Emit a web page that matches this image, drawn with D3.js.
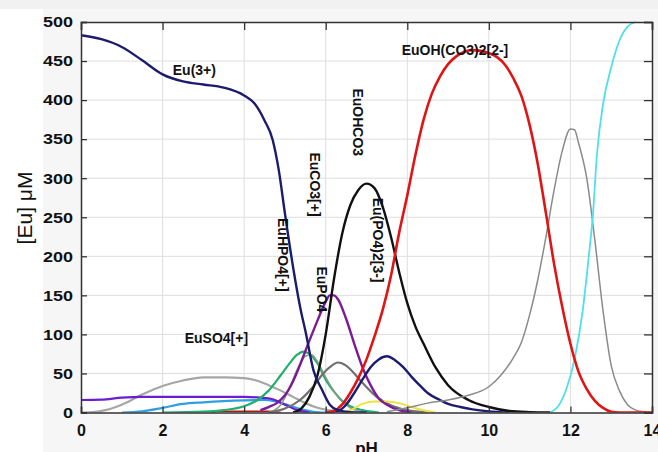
<!DOCTYPE html>
<html><head><meta charset="utf-8">
<script src="https://cdn.jsdelivr.net/npm/d3@7"></script>
<style>body{margin:0;background:#fff}svg{display:block}text{font-family:Arial,"Liberation Sans",sans-serif}</style>
</head><body><svg id="c" width="658" height="452"></svg>
<script>
// Tick values
const xTicks = [0,2,4,6,8,10,12,14];
const yTicks = [0,50,100,150,200,250,300,350,400,450,500];

// Species curves: [pH, [Eu] uM]
const eu3 = [[0,483],[0.5,478],[1,468],[1.5,451],[2,433],[2.5,424],[3,420],[3.5,416],[4,406],[4.25,396],[4.5,374],[4.7,349],[4.85,310],[5,255],[5.2,186],[5.4,128],[5.5,105],[5.7,54],[5.9,30],[6.1,10],[6.3,3],[6.6,0.5],[7,0]];
const euPO4_2 = [[6.0,0],[6.3,2],[6.5,10],[6.7,25],[6.9,42],[7.1,58],[7.3,68],[7.5,72],[7.7,67],[7.9,58],[8.1,46],[8.3,35],[8.5,25],[8.8,16],[9.0,11],[9.3,7],[9.6,4],[10,1.5],[10.5,0]];
const euOHCO3 = [[5.2,0],[5.4,5],[5.6,20],[5.8,48],[6.0,100],[6.2,170],[6.4,228],[6.6,265],[6.8,285],[7.0,293],[7.2,287],[7.4,263],[7.6,225],[7.8,180],[8.0,140],[8.2,110],[8.4,88],[8.7,57],[9.0,35],[9.5,16],[10,7],[10.5,2],[11,0.5],[11.5,0]];
const euOHCO32 = [[6.0,0],[6.2,2],[6.4,10],[6.6,25],[6.8,44],[7.0,68],[7.2,98],[7.4,132],[7.6,175],[7.8,230],[8.0,278],[8.2,330],[8.4,375],[8.6,408],[8.8,430],[9.0,446],[9.2,456],[9.4,462],[9.6,464],[9.8,463],[10,460],[10.2,455],[10.4,445],[10.6,428],[10.8,405],[11,368],[11.2,318],[11.4,255],[11.6,190],[11.8,135],[12,88],[12.2,52],[12.4,30],[12.6,15],[12.8,6],[13,1],[13.2,0],[14,0]];
const grayHigh = [[7.5,1],[8.0,6],[8.5,12],[9.0,16],[9.5,22],[10,33],[10.3,48],[10.6,70],[10.8,90],[11,125],[11.2,170],[11.4,225],[11.6,285],[11.8,335],[12,363],[12.1,362],[12.2,345],[12.4,300],[12.6,220],[12.8,130],[13,60],[13.2,28],[13.4,10],[13.6,3],[13.8,1],[14,0]];
const cyanHigh = [[11.5,0],[11.7,8],[11.9,30],[12.1,68],[12.3,130],[12.45,200],[12.55,252],[12.65,330],[12.8,395],[13,442],[13.2,476],[13.4,494],[13.6,500]];
const euPO4 = [[4.4,3],[4.6,7],[4.8,12],[5.0,22],[5.2,40],[5.4,65],[5.6,92],[5.8,118],[6.0,142],[6.1,150],[6.2,150],[6.3,145],[6.5,120],[6.7,88],[6.9,58],[7.1,35],[7.3,18],[7.5,10],[7.8,3],[8.1,0]];
const violetFlat = [[0,16],[0.5,16.5],[1,19],[1.5,20],[2,20],[3,20],[4,20],[4.4,19],[4.7,17],[5.0,10],[5.3,3],[5.6,0]];
const euSO4 = [[0,0],[0.3,0.5],[0.6,3],[1.0,10],[1.5,23],[2.0,34],[2.5,41],[3.0,45],[3.5,45],[4.0,44],[4.3,41],[4.6,35],[4.9,28],[5.2,20],[5.5,12],[5.8,6],[6.2,2],[6.6,0]];
const blueFlat = [[1.0,0],[1.5,1.5],[2.0,6],[2.5,11],[3.0,13],[3.5,14.5],[4.0,15.5],[4.5,16],[4.8,14],[5.1,9],[5.4,4],[5.7,1],[6.0,0]];
const euHPO4 = [[2.0,0],[3.0,1],[3.5,3],[4.0,8],[4.3,15],[4.6,28],[4.9,48],[5.1,62],[5.3,74],[5.45,78],[5.6,75],[5.8,63],[6.0,42],[6.2,27],[6.4,15],[6.6,8],[6.9,3],[7.3,0]];
const olive = [[4.6,0],[4.9,10],[5.1,30],[5.3,55],[5.5,72],[5.65,74],[5.8,65],[6.0,45],[6.3,20],[6.6,6],[7.0,0]];
const grayMid = [[4.6,0],[5.0,5],[5.37,16],[5.69,33],[5.94,50],[6.1,58],[6.3,64],[6.5,60],[6.7,50],[6.9,38],[7.25,20],[7.57,10],[8.0,3],[8.5,0]];
const yellowBump = [[6.3,0],[6.6,3],[6.9,11],[7.2,14],[7.5,14],[7.8,12],[8.1,7],[8.4,3],[8.7,0]];
const redLow = [[3.2,0],[3.4,1.5],[4.6,1.5],[4.9,0]];

const series = [
  {d: euSO4, c:"#a6a6a6", w:2.2},
  {d: blueFlat, c:"#2f9fe0", w:2.2},
  {d: violetFlat, c:"#6a1ed0", w:2.2},
  {d: redLow, c:"#b01818", w:1.5},
  {d: euHPO4, c:"#1fb070", w:2.2},
  {d: olive, c:"#8a9a86", w:1.5},
  {d: grayMid, c:"#707070", w:2.2},
  {d: yellowBump, c:"#f0e040", w:2},
  {d: euPO4, c:"#7c1a98", w:2.4},
  {d: euPO4_2, c:"#1c1c72", w:2.4},
  {d: euOHCO3, c:"#111111", w:2.4},
  {d: grayHigh, c:"#8a8a8a", w:1.5},
  {d: cyanHigh, c:"#4fe0ea", w:1.8},
  {d: euOHCO32, c:"#e01414", w:2.6},
  {d: eu3, c:"#1c1c6e", w:2.4}
];

const labels = [
  {t:"Eu(3+)", x:2.78, y:438, r:0},
  {t:"EuOH(CO3)2[2-]", x:9.17, y:464, r:0},
  {t:"EuSO4[+]", x:3.32, y:95, r:0},
  {t:"EuOHCO3", x:6.79, y:415, r:90},
  {t:"EuCO3[+]", x:5.74, y:333, r:90},
  {t:"EuHPO4[+]", x:4.95, y:249, r:90},
  {t:"EuPO4", x:5.9, y:187, r:90},
  {t:"Eu(PO4)2[3-]", x:7.28, y:275, r:90}
];

const svg = d3.select("#c");
const L=81, R=652, T=22, B=412.5;
const x = d3.scaleLinear().domain([0,14]).range([L,R]);
const y = d3.scaleLinear().domain([0,500]).range([B,T]);

// backgrounds
svg.append("rect").attr("x",43).attr("y",0).attr("width",615).attr("height",452).attr("fill","#f6f6f6");
svg.append("rect").attr("x",0).attr("y",0).attr("width",658).attr("height",9).attr("fill","#f1f1f1");
svg.append("rect").attr("x",L).attr("y",T).attr("width",R-L).attr("height",B-T).attr("fill","#fff");

// grid
const g = svg.append("g");
g.selectAll(".gx").data(xTicks.slice(1,-1)).join("line")
 .attr("x1",d=>x(d)).attr("x2",d=>x(d)).attr("y1",T).attr("y2",B)
 .attr("stroke","#dedede").attr("stroke-width",1);
g.selectAll(".gy").data(yTicks.slice(1,-1)).join("line")
 .attr("y1",d=>y(d)).attr("y2",d=>y(d)).attr("x1",L).attr("x2",R)
 .attr("stroke","#dedede").attr("stroke-width",1);

svg.append("defs").append("clipPath").attr("id","clip").append("rect")
 .attr("x",L).attr("y",T-1).attr("width",R-L).attr("height",B-T+1);

const line = d3.line().x(d=>x(d[0])).y(d=>y(d[1])).curve(d3.curveMonotoneX);
const pg = svg.append("g").attr("clip-path","url(#clip)");
series.forEach(s=>{
  pg.append("path").attr("d",line(s.d)).attr("fill","none")
   .attr("stroke",s.c).attr("stroke-width",s.w).attr("stroke-linejoin","round");
});

// axes
const axB = d3.axisBottom(x).tickValues(xTicks).tickSize(-6).tickPadding(12);
const axL = d3.axisLeft(y).tickValues(yTicks).tickSize(-6).tickPadding(8);
const axT = d3.axisTop(x).tickValues(xTicks).tickSize(-8).tickFormat("");
const axR = d3.axisRight(y).tickValues(yTicks).tickSize(-8).tickFormat("");
function style(sel, fs){
  sel.select(".domain").attr("stroke","#333").attr("stroke-width",1.5);
  sel.selectAll(".tick line").attr("stroke","#333").attr("stroke-width",1.3);
  sel.selectAll("text").attr("fill","#111").style("font-weight","bold").style("font-size",fs+"px");
}
svg.append("g").attr("transform",`translate(0,${B})`).call(axB).call(style,16);
const gl = svg.append("g").attr("transform",`translate(${L},0)`).call(axL).call(style,15);
gl.selectAll(".tick text").attr("x",0).attr("transform","translate(-8,0) scale(1.2,1)");
svg.append("g").attr("transform",`translate(0,${T})`).call(axT).call(style,16);
svg.append("g").attr("transform",`translate(${R},0)`).call(axR).call(style,16);

// axis titles
svg.append("text").attr("x",(L+R)/2).attr("y",454).attr("text-anchor","middle")
 .style("font-weight","bold").style("font-size","17px").attr("fill","#111").text("pH");
svg.append("text").attr("transform","translate(32,208) rotate(-90)").attr("text-anchor","middle")
 .style("font-size","21px").attr("fill","#111").text("[Eu] μM");

// species labels
labels.forEach(l=>{
  const px=x(l.x), py=y(l.y);
  const t = svg.append("text").attr("text-anchor", l.r? "start":"middle")
   .attr("fill","#111").style("font-weight","bold").style("font-size","14px").text(l.t);
  if(l.r) t.attr("transform",`translate(${px},${py}) rotate(90)`).attr("dy","0.35em");
  else t.attr("x",px).attr("y",py).attr("dy","0.35em");
});
</script></body></html>
